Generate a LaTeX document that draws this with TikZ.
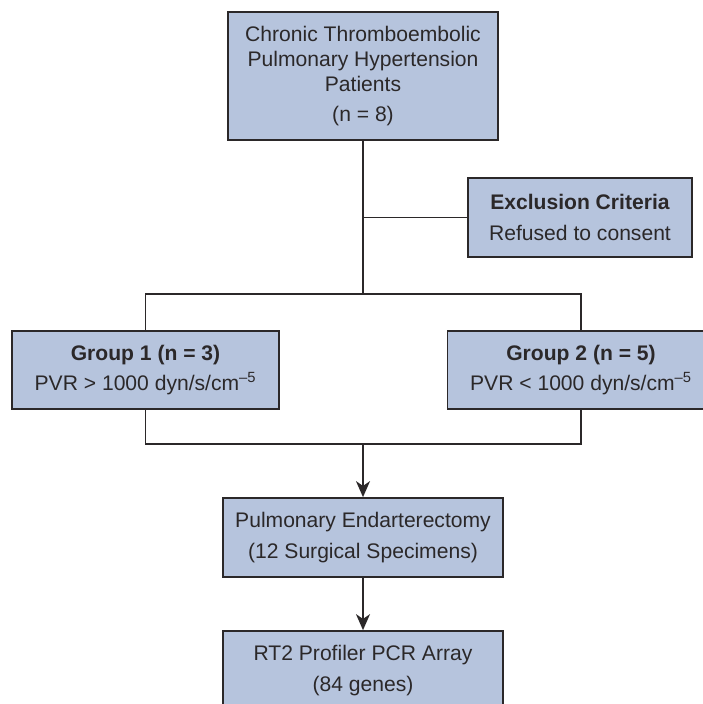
\documentclass[tikz,border=0pt]{standalone}
\usepackage{fontspec}
\setmainfont{Liberation Sans}
\usetikzlibrary{positioning,arrows.meta}
\definecolor{caixafundo}{HTML}{B6C4DD}
\definecolor{tinta}{HTML}{2B2829}

\begin{document}
\begin{tikzpicture}[
  x=0.025cm, y=-0.025cm,
  font=\fontsize{15}{17.8}\selectfont,
  caixa/.style={draw=tinta, fill=caixafundo, line width=1.2pt, align=center, text=tinta, inner sep=0pt},
  linha/.style={draw=tinta, line width=1.2pt},
  seta/.style={linha, -{Stealth[length=4mm, width=3.5mm, inset=1.2mm]}}]
\clip (0,0) rectangle (703,704);
\node[caixa, minimum width=6.75cm, minimum height=3.2cm] (ctph) at (363,76) {Chronic Thromboembolic\\Pulmonary Hypertension\\Patients\\[3pt](n = 8)};
\node[caixa, minimum width=5.6cm, minimum height=1.975cm] (excl) at (580,217.5) {\textbf{Exclusion Criteria}\\[4pt]Refused to consent};
\node[caixa, minimum width=6.675cm, minimum height=1.95cm] (grp1) at (145.5,370) {\textbf{Group 1 (n = 3)}\\[3pt]PVR > 1000 dyn/s/cm\textsuperscript{--5}};
\node[caixa, minimum width=6.675cm, minimum height=1.95cm] (grp2) at (581,370) {\textbf{Group 2 (n = 5)}\\[3pt]PVR < 1000 dyn/s/cm\textsuperscript{--5}};
\node[caixa, minimum width=7cm, minimum height=1.975cm] (pea) at (363,537.5) {Pulmonary Endarterectomy\\[4pt](12 Surgical Specimens)};
\node[caixa, minimum width=7cm, minimum height=1.975cm] (rt2) at (363,670.5) {RT2 Profiler PCR Array\\[4pt](84 genes)};
\coordinate (divide) at (363,294);
\coordinate (junta) at (363,444);
\draw[linha] (ctph) -- (divide);
\draw[linha] (excl.west) -- (excl.west -| ctph.south);
\draw[linha] (grp1.north) |- (divide) -| (grp2.north);
\draw[linha] (grp1.south) |- (junta) -| (grp2.south);
\draw[seta] (junta) -- (pea);
\draw[seta] (pea) -- (rt2);
\end{tikzpicture}
\end{document}
